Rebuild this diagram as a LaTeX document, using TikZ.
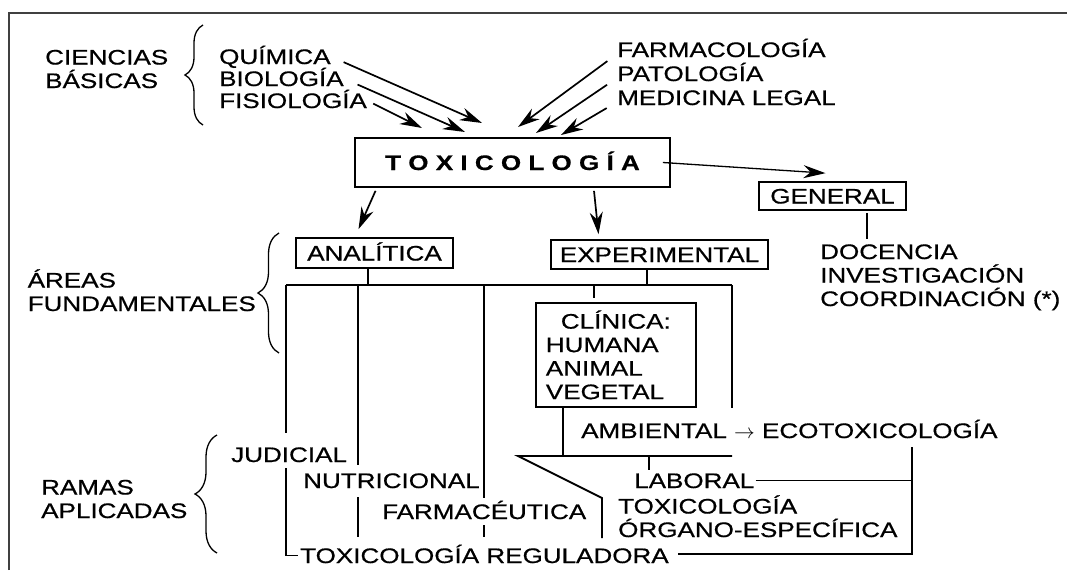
\documentclass[tikz,border=0pt]{standalone}
\usepackage{fontspec}
\setmainfont{Liberation Sans}[FakeStretch=1.24,FakeBold=0.6]
\usetikzlibrary{arrows.meta,decorations.pathreplacing}

\begin{document}
\begin{tikzpicture}[x=1pt,y=-1pt,
  fnt/.style={font=\fontsize{21pt}{23.5pt}\selectfont},
  base/.style={fnt,inner sep=0pt},
  lbl/.style={base,anchor=base west,align=left},
  one/.style={base,anchor=base west,text height=15pt,text depth=0pt},
  box/.style={base,draw,line width=1.7pt,text height=15pt,text depth=0pt},
  ln/.style={line width=1.8pt},
  arr/.style={line width=1.7pt,-{Stealth[length=22pt,width=13pt]}},
  brc/.style={line width=1.3pt,decorate,decoration={brace,amplitude=#1}}]
\useasboundingbox (0,0) rectangle (1067,570);
\draw[line width=2pt,black!75] (9,570) -- (9,12.5) -- (1067,12.5);
% ciencias basicas
\node[lbl] (cien) at (45,88) {CIENCIAS\\BÁSICAS};
\draw[brc=18pt] (203,125) -- (203,25);
\node[one] (quim) at (219,64) {QUÍMICA};
\node[one] (biol) at (219,86) {BIOLOGÍA};
\node[one] (fisi) at (219,108) {FISIOLOGÍA};
\node[one] (farm) at (617,57) {FARMACOLOGÍA};
\node[one] (pato) at (617,81) {PATOLOGÍA};
\node[one] (medi) at (617,105) {MEDICINA LEGAL};
\node[box,minimum width=315pt,minimum height=49pt,font=\fontsize{21pt}{23.5pt}\selectfont\bfseries] (tox) at (512.5,162.5) {T O X I C O L O G Í A};
\coordinate (tq) at (482,123); \coordinate (tb) at (465,132); \coordinate (tf) at (422,128);
\coordinate (tfa) at (518,127); \coordinate (tpa) at (536,133); \coordinate (tme) at (561,135);
\draw[arr,shorten <=14pt] (quim.east) -- (tq);
\draw[arr,shorten <=15pt] (biol.east) -- (tb);
\draw[arr,shorten <=7pt] (fisi.east) -- (tf);
\draw[arr,shorten <=12pt] ([yshift=3pt]farm.base west) -- (tfa);
\draw[arr,shorten <=12pt] ([yshift=3pt]pato.base west) -- (tpa);
\draw[arr,shorten <=12pt] ([yshift=3pt]medi.base west) -- (tme);
% general
\node[box,minimum width=147pt,minimum height=28pt] (gen) at (832.5,196) {GENERAL};
\draw[arr,line width=1.3pt] ([xshift=-8pt]tox.east) -- ([shift={(-7pt,8pt)}]gen.north);
\node[lbl] (doc) at (820,306) {DOCENCIA\\INVESTIGACIÓN\\COORDINACIÓN (*)};
\draw[ln] ([shift={(34.5pt,-2pt)}]gen.south) -- ++(0,26);
% areas fundamentales
\node[lbl] (areas) at (27.5,311) {ÁREAS\\FUNDAMENTALES};
\draw[brc=21pt] (279,353) -- (279,233);
\node[box,minimum width=157pt,minimum height=30pt] (anal) at (374.5,253) {ANALÍTICA};
\node[box,minimum width=217pt,minimum height=29pt] (exp) at (659.5,254.5) {EXPERIMENTAL};
\draw[arr] ([shift={(-137pt,-3pt)}]tox.south) -- ([shift={(-16pt,8pt)}]anal.north);
\draw[arr] ([shift={(81.5pt,-3pt)}]tox.south) -- ([shift={(-61pt,5pt)}]exp.north);
\node[base,draw,line width=1.7pt,anchor=north west,align=left,text width=140pt,inner xsep=10pt,minimum height=104pt] (clin) at (535,302) {\hspace*{15pt}CLÍNICA:\\HUMANA\\ANIMAL\\VEGETAL};
% ramas aplicadas
\node[lbl] (ramas) at (41,518) {RAMAS\\APLICADAS};
\draw[brc=22pt] (217,553) -- (217,435);
\node[one] (jud) at (231,462) {JUDICIAL};
\node[one] (nut) at (303,488) {NUTRICIONAL};
\node[one] (far) at (382,519) {FARMACÉUTICA};
\node[one] (reg) at (300,563) {TOXICOLOGÍA REGULADORA};
\node[one] (amb) at (581,438) {AMBIENTAL $\rightarrow$ ECOTOXICOLOGÍA};
\node[one] (lab) at (634,488) {LABORAL};
\node[lbl] (org) at (618,537) {TOXICOLOGÍA\\ÓRGANO-ESPECÍFICA};
% lineas
\coordinate (busL) at (286,285); \coordinate (busN) at (358,285); \coordinate (busF) at (484,285);
\coordinate (busC) at (594,285); \coordinate (busR) at (732,285);
\draw[ln] ([xshift=-6.5pt]anal.south) -- ([xshift=-6.5pt]anal.south |- busL);
\draw[ln] ([xshift=-12.5pt]exp.south) -- ([xshift=-12.5pt]exp.south |- busL);
\draw[ln] (busL) -- (busR);
\draw[ln] (busL) -- ([yshift=14pt]busL |- jud.north);
\draw[ln] ([yshift=-6pt]busL |- jud.south) -- (busL |- reg.west) -- ([xshift=-2pt]reg.west);
\draw[ln] (busN) -- ([yshift=8pt]busN |- nut.north);
\draw[ln] ([yshift=-9pt]busN |- nut.south) -- ([yshift=11pt]busN |- reg.north);
\draw[ln] (busF) -- ([yshift=6pt]busF |- far.north);
\draw[ln] ([yshift=-6pt]busF |- far.south) -- ([yshift=11pt]busF |- reg.north);
\draw[ln] (busC) -- ([yshift=4pt]busC |- clin.north);
\draw[ln] (busR) -- (busR |- clin.south);
\coordinate (ambL) at (518,456); \coordinate (ambR) at (732,456); \coordinate (kink) at (602,498);
\coordinate (labT) at (649,456); \coordinate (rtop) at (912,447); \coordinate (rbot) at (912,554);
\draw[ln] ([xshift=-53pt]clin.south) -- ([xshift=-53pt]clin.south |- ambL);
\draw[ln] (ambR) -- (ambL) -- (kink) -- ++(0,40);
\draw[ln] (labT) -- ([yshift=3pt]labT |- lab.north);
\draw[ln] ([xshift=1pt]lab.east) -- (lab.east -| rtop);
\draw[ln] (rtop) -- (rbot) -- ([xshift=9pt]reg.east |- rbot);
\end{tikzpicture}
\end{document}
